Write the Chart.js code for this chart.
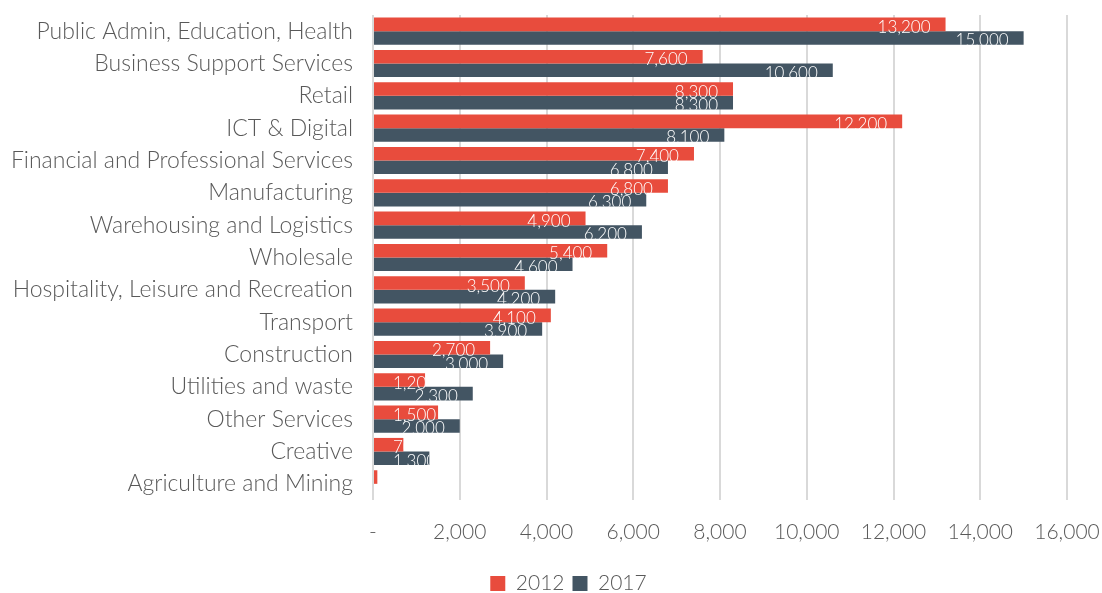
<!DOCTYPE html>
<html>
<head>
<meta charset="utf-8">
<script src="https://cdn.jsdelivr.net/npm/chart.js@4/dist/chart.umd.min.js"></script>
<style>
  html, body { margin: 0; padding: 0; background: #fff; }
  #wrap { width: 1102px; height: 593px; }
</style>
</head>
<body>
<div id="wrap"><canvas id="sectors"></canvas></div>
<script>
const sectors = [
    'Public Admin, Education, Health',
    'Business Support Services',
    'Retail',
    'ICT & Digital',
    'Financial and Professional Services',
    'Manufacturing',
    'Warehousing and Logistics',
    'Wholesale',
    'Hospitality, Leisure and Recreation',
    'Transport',
    'Construction',
    'Utilities and waste',
    'Other Services',
    'Creative',
    'Agriculture and Mining'
];
const jobs2012 = [13200, 7600, 8300, 12200, 7400, 6800, 4900, 5400, 3500, 4100, 2700, 1200, 1500, 700, 100];
const jobs2017 = [15000, 10600, 8300, 8100, 6800, 6300, 6200, 4600, 4200, 3900, 3000, 2300, 2000, 1300, 0];

const FONT = 'Lato, "Open Sans", sans-serif';
const red = '#E84C3D';
const slate = '#435563';

// white value labels at the bar end, clipped to the bar like the original
const barLabels = {
    id: 'barLabels',
    afterDatasetsDraw(chart) {
        const ctx = chart.ctx;
        const minLeft = chart.chartArea.left + 20;
        chart.data.datasets.forEach((ds, di) => {
            const meta = chart.getDatasetMeta(di);
            meta.data.forEach((bar, i) => {
                const v = ds.data[i];
                if (!v) return;
                const txt = v.toLocaleString('en-US');
                ctx.save();
                ctx.font = '300 17px ' + FONT;
                const w = ctx.measureText(txt).width;
                let right = bar.x - 15;
                if (right - w < minLeft) right = minLeft + w;
                const top = bar.y - bar.height / 2;
                const bottom = bar.y + bar.height / 2 + (di === 0 ? 7 : 0);
                ctx.beginPath();
                ctx.rect(bar.base, top, bar.x - bar.base, bottom - top);
                ctx.clip();
                ctx.fillStyle = '#fff';
                ctx.textAlign = 'right';
                ctx.textBaseline = 'middle';
                ctx.fillText(txt, right, bar.y + 3);
                ctx.restore();
            });
        });
    }
};

// legend sits a little right of centre in the original
const legendShift = {
    id: 'legendShift',
    afterUpdate(chart) {
        const legend = chart.legend;
        if (!legend) return;
        legend.left += 35;
        legend.right += 35;
        legend.adjustHitBoxes();
    }
};

const ctx = document.getElementById('sectors').getContext('2d');
new Chart(ctx, {
    type: 'bar',
    data: {
        labels: sectors,
        datasets: [
            { label: '2012', data: jobs2012, backgroundColor: red, categoryPercentage: 0.84, barPercentage: 1 },
            { label: '2017', data: jobs2017, backgroundColor: slate, categoryPercentage: 0.84, barPercentage: 1 }
        ]
    },
    options: {
        indexAxis: 'y',
        responsive: true,
        maintainAspectRatio: false,
        animation: false,
        layout: { padding: { top: 15, right: 35, bottom: -11, left: 0 } },
        plugins: {
            tooltip: { enabled: false },
            legend: {
                position: 'bottom',
                labels: {
                    color: '#595959',
                    font: { family: FONT, size: 21, weight: 300 },
                    boxWidth: 15,
                    boxHeight: 15,
                    padding: 8
                }
            }
        },
        scales: {
            x: {
                min: 0,
                max: 16000,
                ticks: {
                    stepSize: 2000,
                    color: '#595959',
                    font: { family: FONT, size: 21, weight: 300 },
                    padding: 20,
                    maxRotation: 0,
                    callback: (v) => v === 0 ? '-' : v.toLocaleString('en-US')
                },
                grid: { color: '#d9d9d9', lineWidth: 2, drawTicks: false },
                border: { display: false },
                afterFit: (scale) => {
                    scale.height = 65;
                    scale.paddingLeft = 0;
                    scale.paddingRight = 0;
                }
            },
            y: {
                ticks: {
                    color: '#595959',
                    font: { family: FONT, size: 23, weight: 300 },
                    padding: 20,
                    autoSkip: false
                },
                grid: { display: false, drawTicks: false },
                border: { display: false },
                afterFit: (scale) => {
                    scale.width = 373;
                    scale.paddingTop = 0;
                    scale.paddingBottom = 0;
                }
            }
        }
    },
    plugins: [barLabels, legendShift]
});
</script>
</body>
</html>
